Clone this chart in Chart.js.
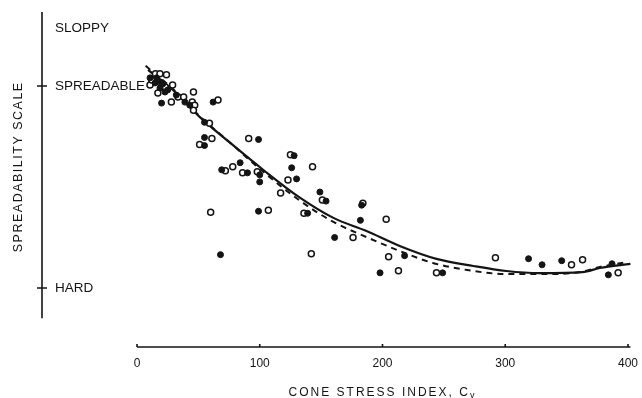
<!DOCTYPE html>
<html>
<head>
<meta charset="utf-8">
<script src="https://cdn.jsdelivr.net/npm/chart.js@4.4.0/dist/chart.umd.min.js"></script>
<style>
  html, body { margin: 0; padding: 0; background: #fff; }
</style>
</head>
<body>
<canvas id="chartScatter" width="642" height="398"></canvas>
<script>
// tick labels
const xTicks = [0, 100, 200, 300, 400];
const yTickValues = [0, 10, 12.85];
const yTickLabels = ["HARD", "SPREADABLE", "SLOPPY"];
const yMarked = [0, 10];

// filled circles
const filledX = [10.6, 14.7, 16, 19, 21, 25, 22.8, 18.7, 20, 32, 39, 43, 62, 55, 55, 55, 99, 84, 69, 90, 100, 100, 128, 126, 130, 149, 154, 139, 99, 68, 183, 182, 161, 218, 198, 249, 319, 330, 346, 384, 387];
const filledY = [10.4, 10.15, 10.4, 10.2, 10.1, 9.8, 9.7, 9.9, 9.15, 9.55, 9.2, 9.05, 9.2, 8.2, 7.45, 7.05, 7.35, 6.2, 5.85, 5.7, 5.6, 5.25, 6.55, 5.95, 5.4, 4.75, 4.3, 3.7, 3.8, 1.65, 4.1, 3.35, 2.5, 1.6, 0.75, 0.75, 1.45, 1.15, 1.35, 0.65, 1.2];

// open circles
const openX = [10.6, 12, 15, 18.7, 24, 29, 17, 23, 28, 33.4, 38, 46, 45, 47, 46, 66, 59, 61, 51, 91, 78, 72, 86, 98, 125, 143, 123, 117, 151, 136, 60, 107, 142, 184, 203, 176, 205, 213, 244, 292, 354, 363, 392];
const openY = [10.05, 10.3, 10.6, 10.6, 10.55, 10.05, 9.65, 9.95, 9.2, 9.45, 9.45, 9.7, 9.2, 9.05, 8.8, 9.3, 8.15, 7.4, 7.1, 7.4, 6.0, 5.8, 5.7, 5.75, 6.6, 6.0, 5.35, 4.7, 4.35, 3.7, 3.75, 3.85, 1.7, 4.2, 3.4, 2.5, 1.55, 0.85, 0.75, 1.5, 1.15, 1.4, 0.75];

// fitted curves
const fitX = [9, 31, 51, 76, 103, 133, 160, 187, 214, 244, 274, 301, 328, 363, 377, 402];
const fitY = [10.8, 9.7, 8.47, 7.18, 5.84, 4.46, 3.47, 2.82, 2.08, 1.44, 1.09, 0.84, 0.74, 0.79, 0.99, 1.19];
const dashX = [7, 31, 51, 76, 103, 133, 160, 187, 214, 241, 269, 301, 331, 361, 377, 400];
const dashY = [11.0, 9.75, 8.51, 7.18, 5.74, 4.31, 3.27, 2.52, 1.83, 1.24, 0.89, 0.69, 0.69, 0.79, 1.04, 1.29];

const ink = "#141414";
const font = "'Liberation Sans', Arial, sans-serif";

function pairs(xs, ys) {
  return xs.map((v, i) => ({ x: v, y: ys[i] }));
}

// hand-drawn style axes: separate lines, ticks, titles
const paperAxes = {
  id: "paperAxes",
  beforeDatasetsDraw(chart) {
    const { ctx, chartArea, scales: { x, y } } = chart;
    ctx.save();
    ctx.strokeStyle = ink;
    ctx.lineWidth = 1.6;
    ctx.beginPath();
    ctx.moveTo(chartArea.left, chartArea.top);
    ctx.lineTo(chartArea.left, y.getPixelForValue(-1.5));
    yMarked.forEach(v => {
      const py = y.getPixelForValue(v);
      ctx.moveTo(chartArea.left - 5, py);
      ctx.lineTo(chartArea.left + 5, py);
    });
    const bx = chartArea.bottom;
    ctx.moveTo(x.getPixelForValue(0), bx);
    ctx.lineTo(x.getPixelForValue(402), bx);
    xTicks.forEach(v => {
      const px = x.getPixelForValue(v);
      ctx.moveTo(px, bx);
      ctx.lineTo(px, bx - 3);
    });
    ctx.stroke();

    ctx.fillStyle = ink;
    ctx.textBaseline = "middle";
    ctx.letterSpacing = "2px";

    // x title
    const cx = (x.getPixelForValue(0) + x.getPixelForValue(400)) / 2;
    ctx.font = "12px " + font;
    const main = "CONE STRESS INDEX, C";
    const w = ctx.measureText(main).width;
    ctx.font = "9px " + font;
    const ws = ctx.measureText("v").width;
    const start = cx - (w + ws) / 2;
    ctx.font = "12px " + font;
    ctx.textAlign = "left";
    ctx.fillText(main, start, bx + 46);
    ctx.font = "9px " + font;
    ctx.fillText("v", start + w, bx + 49);

    // y title
    ctx.letterSpacing = "1.5px";
    ctx.font = "12.5px " + font;
    ctx.textAlign = "center";
    ctx.translate(19, y.getPixelForValue(6));
    ctx.rotate(-Math.PI / 2);
    ctx.fillText("SPREADABILITY SCALE", 0, 0);
    ctx.restore();
  }
};

new Chart(document.getElementById("chartScatter"), {
  type: "scatter",
  data: {
    datasets: [
      {
        label: "filled",
        data: pairs(filledX, filledY),
        pointRadius: 3,
        pointBackgroundColor: ink,
        pointBorderColor: ink,
        pointBorderWidth: 1
      },
      {
        label: "open",
        data: pairs(openX, openY),
        pointRadius: 3,
        pointBackgroundColor: "#fff",
        pointBorderColor: ink,
        pointBorderWidth: 1.5
      },
      {
        type: "line",
        label: "fit",
        data: pairs(fitX, fitY),
        borderColor: ink,
        borderWidth: 2.2,
        pointRadius: 0,
        cubicInterpolationMode: "monotone",
        fill: false
      },
      {
        type: "line",
        label: "fit dashed",
        data: pairs(dashX, dashY),
        borderColor: ink,
        borderWidth: 2,
        borderDash: [6, 5],
        pointRadius: 0,
        cubicInterpolationMode: "monotone",
        fill: false
      }
    ]
  },
  options: {
    responsive: false,
    animation: false,
    layout: { padding: { top: 12, right: 8, left: 0, bottom: 0 } },
    plugins: {
      legend: { display: false },
      tooltip: { enabled: false }
    },
    scales: {
      x: {
        type: "linear",
        min: -77.4,
        max: 404.9,
        grid: { display: false, drawTicks: false },
        border: { display: false },
        afterBuildTicks: scale => { scale.ticks = xTicks.map(v => ({ value: v })); },
        afterFit: scale => {
          scale.height = 51;
          scale.paddingLeft = 0;
          scale.paddingRight = 0;
        },
        ticks: {
          autoSkip: false,
          maxRotation: 0,
          padding: 9,
          color: ink,
          font: { family: font, size: 12 }
        }
      },
      y: {
        type: "linear",
        position: "left",
        min: -2.92,
        max: 13.66,
        grid: { display: false, drawTicks: false },
        border: { display: false },
        afterBuildTicks: scale => { scale.ticks = yTickValues.map(v => ({ value: v })); },
        afterFit: scale => {
          scale.width = 42;
          scale.paddingTop = 0;
          scale.paddingBottom = 0;
        },
        ticks: {
          mirror: true,
          padding: 13,
          color: ink,
          font: { family: font, size: 13.5 },
          callback: v => yTickLabels[yTickValues.indexOf(v)]
        }
      }
    }
  },
  plugins: [paperAxes]
});
</script>
</body>
</html>
